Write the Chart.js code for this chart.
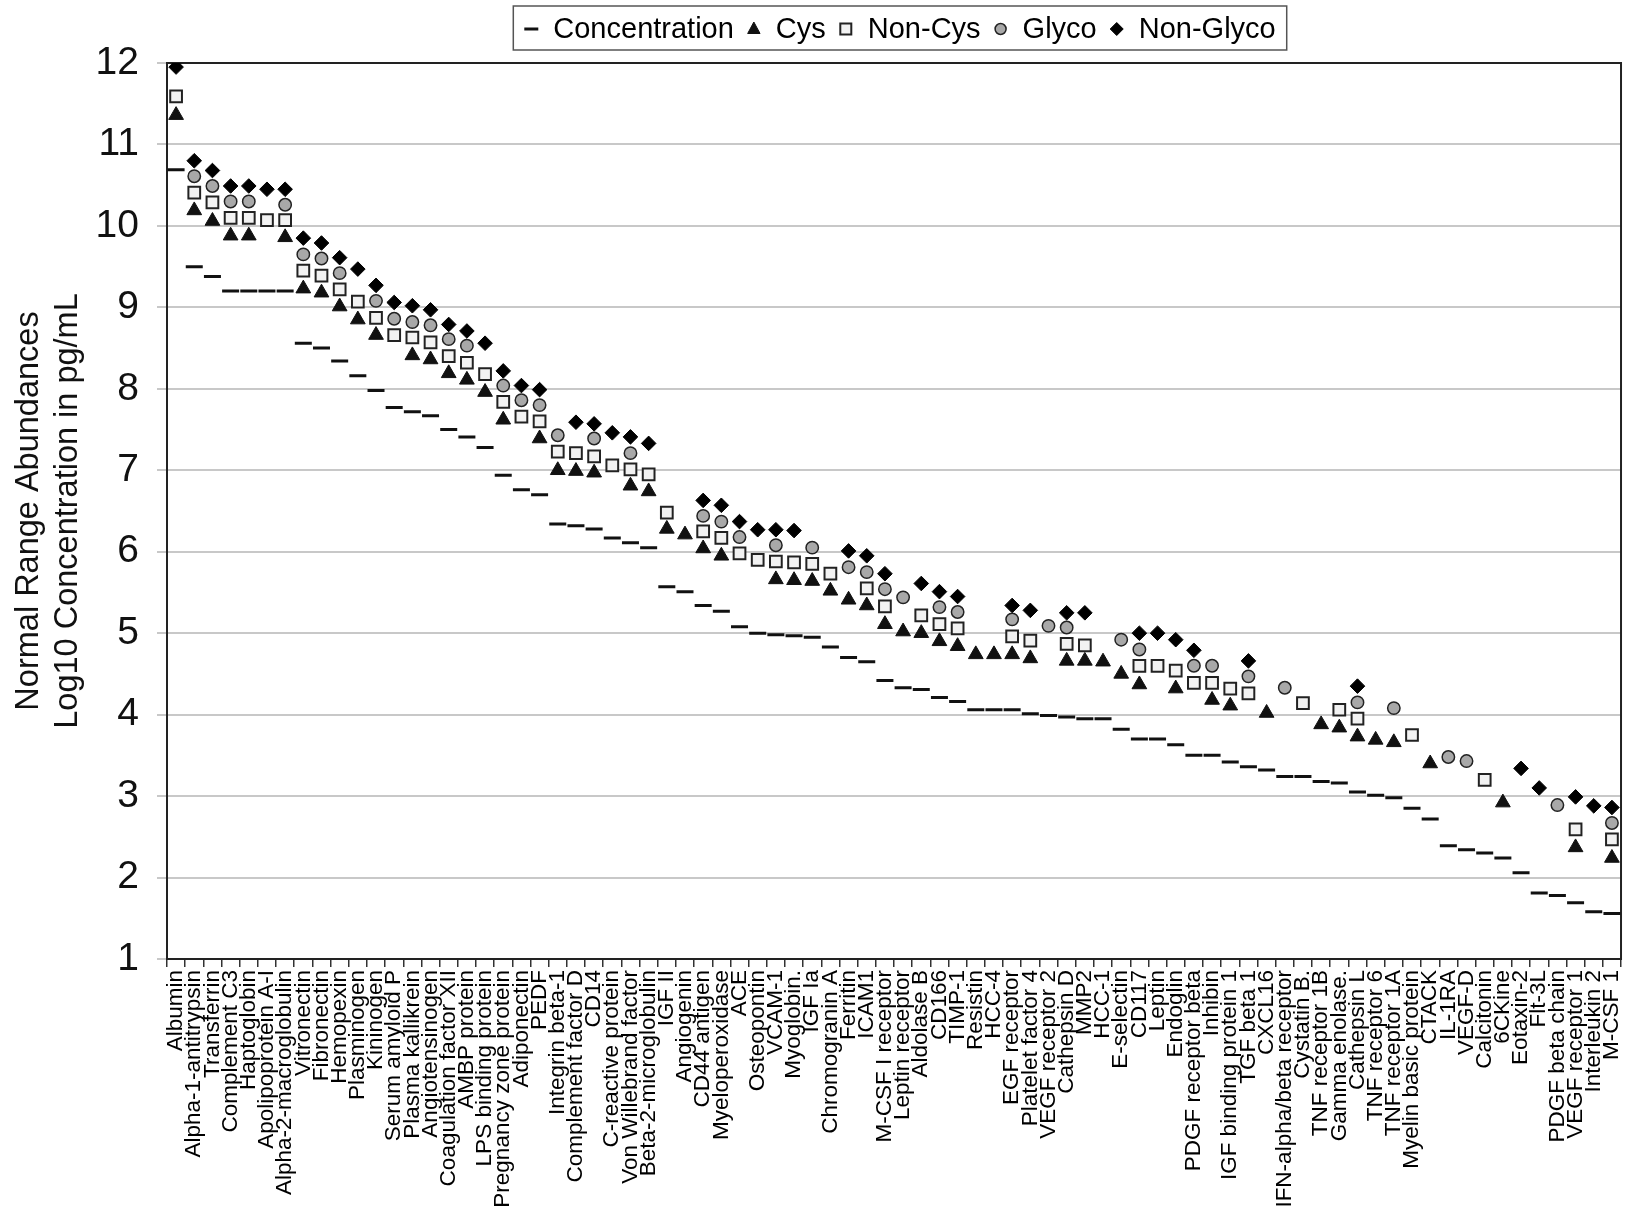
<!DOCTYPE html>
<html>
<head>
<meta charset="utf-8">
<title>Normal range abundances</title>
<script src="https://cdn.jsdelivr.net/npm/chart.js@4.4.1/dist/chart.umd.min.js"></script>
<style>
    html, body { margin: 0; padding: 0; background: #fff; }
    canvas { display: block; }
</style>
</head>
<body>
<canvas id="abundance-chart" width="1642" height="1214"></canvas>
<script>
// Proteins along the x axis (sorted by concentration)
const categories = [
    'Albumin', 'Alpha-1-antitrypsin', 'Transferrin', 'Complement C3', 'Haptoglobin',
    'Apolipoprotein A-I', 'Alpha-2-macroglobulin', 'Vitronectin', 'Fibronectin', 'Hemopexin',
    'Plasminogen', 'Kininogen', 'Serum amyloid P', 'Plasma kallikrein', 'Angiotensinogen',
    'Coagulation factor XII', 'AMBP protein', 'LPS binding protein', 'Pregnancy zone protein', 'Adiponectin',
    'PEDF', 'Integrin beta-1', 'Complement factor D', 'CD14', 'C-reactive protein',
    'Von Willebrand factor', 'Beta-2-microglobulin', 'IGF II', 'Angiogenin', 'CD44 antigen',
    'Myeloperoxidase', 'ACE', 'Osteopontin', 'VCAM-1', 'Myoglobin.',
    'IGF Ia', 'Chromogranin A', 'Ferritin', 'ICAM1', 'M-CSF I receptor',
    'Leptin receptor', 'Aldolase B', 'CD166', 'TIMP-1', 'Resistin',
    'HCC-4', 'EGF receptor', 'Platelet factor 4', 'VEGF receptor 2', 'Cathepsin D',
    'MMP2', 'HCC-1', 'E-selectin', 'CD117', 'Leptin',
    'Endoglin', 'PDGF receptor beta', 'Inhibin', 'IGF binding protein 1', 'TGF beta 1',
    'CXCL16', 'IFN-alpha/beta receptor', 'Cystatin B.', 'TNF receptor 1B', 'Gamma enolase.',
    'Cathepsin L', 'TNF receptor 6', 'TNF receptor 1A', 'Myelin basic protein', 'CTACK',
    'IL-1RA', 'VEGF-D', 'Calcitonin', '6CKine', 'Eotaxin-2',
    'Flt-3L', 'PDGF beta chain', 'VEGF receptor 1', 'Interleukin 2', 'M-CSF 1'
];

// Log10 concentration in pg/mL
const concentration = [
    10.69, 9.50, 9.38, 9.20, 9.20, 9.20, 9.20, 8.56, 8.50, 8.34,
    8.16, 7.98, 7.77, 7.72, 7.67, 7.50, 7.41, 7.28, 6.94, 6.76,
    6.70, 6.34, 6.32, 6.28, 6.17, 6.11, 6.05, 5.57, 5.51, 5.34,
    5.27, 5.08, 5.00, 4.98, 4.97, 4.95, 4.83, 4.70, 4.65, 4.42,
    4.33, 4.31, 4.21, 4.16, 4.06, 4.06, 4.06, 4.01, 3.99, 3.97,
    3.95, 3.95, 3.82, 3.70, 3.70, 3.63, 3.50, 3.50, 3.42, 3.36,
    3.32, 3.24, 3.24, 3.18, 3.16, 3.05, 3.01, 2.98, 2.85, 2.72,
    2.39, 2.34, 2.30, 2.24, 2.06, 1.81, 1.78, 1.69, 1.58, 1.56
];

// Log10 concentration of the Cys peptides
const cys = [
    11.36, 10.19, 10.06, 9.88, 9.88, null, 9.86, 9.23, 9.18, 9.01,
    8.85, 8.66, null, 8.41, 8.36, 8.19, 8.11, 7.96, 7.62, null,
    7.39, 7.00, 6.99, 6.97, null, 6.81, 6.74, 6.28, 6.21, 6.04,
    5.95, null, null, 5.66, 5.65, 5.64, 5.52, 5.41, 5.34, 5.11,
    5.02, 5.00, 4.90, 4.84, 4.74, 4.74, 4.74, 4.69, null, 4.66,
    4.66, 4.65, 4.50, 4.37, null, 4.32, null, 4.18, 4.11, null,
    4.02, null, null, 3.88, 3.84, 3.73, 3.69, 3.66, null, 3.40,
    null, null, null, 2.92, null, null, null, 2.37, null, 2.24
];

// Log10 concentration of the Non-Cys peptides
const nonCys = [
    11.59, 10.41, 10.29, 10.10, 10.10, 10.07, 10.07, 9.45, 9.39, 9.22,
    9.07, 8.87, 8.66, 8.63, 8.57, 8.40, 8.32, 8.18, 7.84, 7.66,
    7.60, 7.23, 7.21, 7.17, 7.06, 7.01, 6.95, 6.48, null, 6.25,
    6.17, 5.98, 5.90, 5.88, 5.87, 5.85, 5.73, null, 5.55, 5.33,
    null, 5.22, 5.11, 5.06, null, null, 4.96, 4.91, null, 4.87,
    4.85, null, null, 4.60, 4.60, 4.54, 4.39, 4.39, 4.32, 4.26,
    null, null, 4.14, null, 4.06, 3.95, null, null, 3.75, null,
    null, null, 3.20, null, null, null, null, 2.59, null, 2.47
];

// Log10 concentration of the Glyco peptides
const glyco = [
    null, 10.61, 10.49, 10.30, 10.30, null, 10.26, 9.65, 9.60, 9.42,
    null, 9.08, 8.86, 8.82, 8.78, 8.61, 8.53, null, 8.04, 7.86,
    7.80, 7.43, null, 7.39, null, 7.21, null, null, null, 6.44,
    6.37, 6.18, null, 6.08, null, 6.05, null, 5.81, 5.75, 5.54,
    5.44, null, 5.32, 5.26, null, null, 5.17, null, 5.09, 5.07,
    null, null, 4.92, 4.80, null, null, 4.60, 4.60, null, 4.47,
    null, 4.33, null, null, null, 4.15, null, 4.08, null, null,
    3.48, 3.43, null, null, null, null, 2.89, null, null, 2.67
];

// Log10 concentration of the Non-Glyco peptides
const nonGlyco = [
    11.95, 10.80, 10.68, 10.49, 10.49, 10.45, 10.45, 9.85, 9.79, 9.61,
    9.47, 9.27, 9.06, 9.02, 8.97, 8.79, 8.71, 8.56, 8.22, 8.04,
    7.99, null, 7.59, 7.57, 7.46, 7.41, 7.33, null, null, 6.63,
    6.57, 6.37, 6.27, 6.27, 6.26, null, null, 6.01, 5.95, 5.73,
    null, 5.61, 5.51, 5.45, null, null, 5.34, 5.28, null, 5.25,
    5.25, null, null, 5.00, 5.00, 4.92, 4.79, null, null, 4.66,
    null, null, null, null, null, 4.35, null, null, null, null,
    null, null, null, null, 3.34, 3.10, null, 2.99, 2.88, 2.86
];

const yMin = 1;
const yMax = 12;
const yTitle = ['Normal Range Abundances', 'Log10 Concentration in pg/mL'];

Chart.defaults.font.family = '"Liberation Sans", Arial, Helvetica, sans-serif';

// Box around the plot (top and right edges)
const frame = {
    id: 'frame',
    beforeDatasetsDraw(chart) {
        const ctx = chart.ctx;
        const a = chart.chartArea;
        ctx.save();
        ctx.strokeStyle = '#222';
        ctx.lineWidth = 2;
        ctx.strokeRect(a.left, a.top, a.right - a.left, a.bottom - a.top);
        ctx.restore();
    }
};

// Small marker for the legend
function drawLegendMarker(ctx, ds, x, y) {
    ctx.fillStyle = ds.pointBackgroundColor;
    ctx.strokeStyle = ds.pointBorderColor;
    ctx.lineWidth = ds.pointStyle === 'line' ? 3 : ds.pointBorderWidth;
    ctx.beginPath();
    if (ds.pointStyle === 'line') {
        ctx.moveTo(x - 7, y);
        ctx.lineTo(x + 7, y);
        ctx.stroke();
        return;
    }
    if (ds.pointStyle === 'triangle') {
        ctx.moveTo(x, y - 7);
        ctx.lineTo(x + 6.2, y + 4.5);
        ctx.lineTo(x - 6.2, y + 4.5);
        ctx.closePath();
    } else if (ds.pointStyle === 'rect') {
        ctx.rect(x - 5.5, y - 5.5, 11, 11);
    } else if (ds.pointStyle === 'circle') {
        ctx.arc(x, y, 5.5, 0, Math.PI * 2);
    } else {
        ctx.moveTo(x, y - 6.5);
        ctx.lineTo(x + 6.5, y);
        ctx.lineTo(x, y + 6.5);
        ctx.lineTo(x - 6.5, y);
        ctx.closePath();
    }
    ctx.fill();
    ctx.stroke();
}

// Legend in a box above the plot
const boxedLegend = {
    id: 'boxedLegend',
    afterDraw(chart) {
        const ctx = chart.ctx;
        const sets = chart.data.datasets;
        const markerW = 14, gapText = 15, gapItem = 13, pad = 11;
        ctx.save();
        ctx.font = '29px "Liberation Sans", Arial, sans-serif';
        const widths = sets.map(ds => ctx.measureText(ds.label).width);
        let total = pad * 2 + sets.length * (markerW + gapText) + (sets.length - 1) * gapItem;
        widths.forEach(w => total += w);

        const a = chart.chartArea;
        let x = (a.left + a.right) / 2 - total / 2 + 6;
        const top = 6, bottom = 50, mid = 29;
        ctx.strokeStyle = '#555';
        ctx.lineWidth = 1.5;
        ctx.strokeRect(x, top, total, bottom - top);

        x += pad;
        sets.forEach((ds, i) => {
            drawLegendMarker(ctx, ds, x + markerW / 2, mid);
            x += markerW + gapText;
            ctx.fillStyle = '#000';
            ctx.textAlign = 'left';
            ctx.textBaseline = 'middle';
            ctx.fillText(ds.label, x, mid + 1);
            x += widths[i] + gapItem;
        });
        ctx.restore();
    }
};

const datasets = [
    { label: 'Concentration', data: concentration, pointStyle: 'line', pointRadius: 8.5,
      pointBorderWidth: 3, pointBorderColor: '#111', pointBackgroundColor: '#111' },
    { label: 'Cys', data: cys, pointStyle: 'triangle', pointRadius: 8.5,
      pointBorderWidth: 1, pointBorderColor: '#111', pointBackgroundColor: '#111' },
    { label: 'Non-Cys', data: nonCys, pointStyle: 'rect', pointRadius: 8.3,
      pointBorderWidth: 2, pointBorderColor: '#222', pointBackgroundColor: '#f2f2f2' },
    { label: 'Glyco', data: glyco, pointStyle: 'circle', pointRadius: 6.2,
      pointBorderWidth: 1.5, pointBorderColor: '#222', pointBackgroundColor: '#a8a8a8' },
    { label: 'Non-Glyco', data: nonGlyco, pointStyle: 'rectRot', pointRadius: 7.3,
      pointBorderWidth: 1, pointBorderColor: '#000', pointBackgroundColor: '#000' }
].map(ds => Object.assign({ showLine: false, borderWidth: 0, pointHoverRadius: ds.pointRadius }, ds));

const ctx = document.getElementById('abundance-chart').getContext('2d');
new Chart(ctx, {
    type: 'line',
    data: {
        labels: categories,
        datasets: datasets
    },
    options: {
        responsive: false,
        animation: false,
        events: [],
        layout: {
            padding: { top: 63, right: 2, left: 0, bottom: 0 }
        },
        plugins: {
            legend: { display: false },
            tooltip: { enabled: false }
        },
        scales: {
            x: {
                offset: true,
                ticks: {
                    autoSkip: false,
                    minRotation: 90,
                    maxRotation: 90,
                    padding: 3,
                    color: '#000',
                    font: { size: 22.5 }
                },
                grid: { offset: true, drawOnChartArea: false, color: '#333', lineWidth: 1.5, tickLength: 8 },
                border: { color: '#222', width: 2 },
                afterFit: scale => { scale.height = 255; }
            },
            y: {
                min: yMin,
                max: yMax,
                ticks: { stepSize: 1, padding: 18, color: '#111', font: { size: 39 } },
                grid: { color: '#c8c8c8', lineWidth: 2, tickLength: 10 },
                border: { color: '#222', width: 2 },
                title: {
                    display: true,
                    text: yTitle,
                    color: '#111',
                    font: { size: 32.5, lineHeight: 1.22 },
                    padding: { top: 9, bottom: 0 }
                },
                afterFit: scale => { scale.width = 167; }
            }
        }
    },
    plugins: [frame, boxedLegend]
});
</script>
</body>
</html>
